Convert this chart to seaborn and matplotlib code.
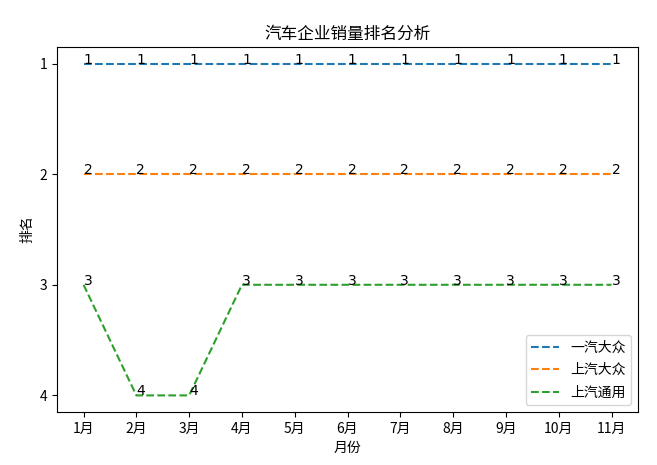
import matplotlib
matplotlib.use("Agg")
import matplotlib.pyplot as plt
import seaborn as sns
import pandas as pd

months = ["1月", "2月", "3月", "4月", "5月", "6月", "7月", "8月", "9月", "10月", "11月"]
faw_vw = [1, 1, 1, 1, 1, 1, 1, 1, 1, 1, 1]
saic_vw = [2, 2, 2, 2, 2, 2, 2, 2, 2, 2, 2]
saic_gm = [3, 4, 4, 3, 3, 3, 3, 3, 3, 3, 3]
series_names = ["一汽大众", "上汽大众", "上汽通用"]

plt.rcParams['font.family'] = ['Noto Sans CJK SC', 'DejaVu Sans']
plt.rcParams['axes.unicode_minus'] = False

rows = []
for name, vals in zip(series_names, [faw_vw, saic_vw, saic_gm]):
    for i, (m, v) in enumerate(zip(months, vals)):
        rows.append({"idx": i, "month": m, "rank": v, "company": name})
df = pd.DataFrame(rows)

fig, ax = plt.subplots(figsize=(6.57, 4.65), dpi=100)
fig.subplots_adjust(left=0.087, right=0.971, top=0.899, bottom=0.114)

palette = ["#1f77b4", "#ff7f0e", "#2ca02c"]
sns.lineplot(data=df, x="idx", y="rank", hue="company", palette=palette,
             hue_order=series_names, ax=ax, linestyle="--", linewidth=1.5)
for line in ax.get_lines():
    line.set_linestyle("--")

for name, vals in zip(series_names, [faw_vw, saic_vw, saic_gm]):
    for i, v in enumerate(vals):
        ax.text(i, v, str(v), fontsize=10, family=['DejaVu Sans'])

ax.set_xticks(range(len(months)))
ax.set_xticklabels(months)
ax.set_yticks([1, 2, 3, 4])
ax.invert_yaxis()
ax.set_title("汽车企业销量排名分析", fontsize=12)
ax.set_xlabel("月份")
ax.set_ylabel("排名")
leg = ax.legend(loc="lower right", labelspacing=0.6)
for h in leg.get_lines():
    h.set_linestyle("--")

fig.savefig("out.png", dpi=100)
